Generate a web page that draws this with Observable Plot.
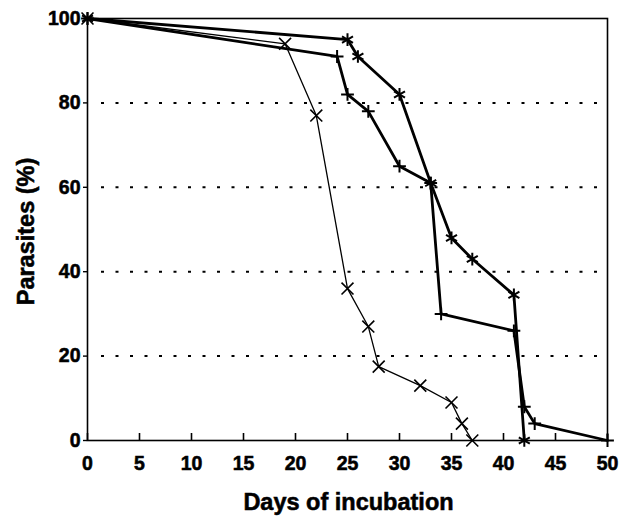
<!DOCTYPE html>
<html>
<head>
<meta charset="utf-8">
<script src="https://cdn.jsdelivr.net/npm/d3@7"></script>
<script src="https://cdn.jsdelivr.net/npm/@observablehq/plot@0.6"></script>
<style>
  html, body { margin: 0; padding: 0; background: #fff; }
  #chart svg { display: block; }
  #chart svg text { stroke: #000; stroke-width: 0.55px; paint-order: stroke; }
</style>
</head>
<body>
<div id="chart"></div>
<script>
// Series A (asterisk markers, thick line)
const daysA = [0, 25, 26, 30, 33, 35, 37, 41, 42];
const pctA  = [100, 95, 91, 82, 61, 48, 43, 34.5, 0];
// Series B (plus markers, thick line)
const daysB = [0, 24, 25, 27, 30, 33, 34, 41, 42, 43, 50];
const pctB  = [100, 91, 82, 78, 65, 61, 30, 26, 8, 4, 0];
// Series C (x markers, thin line)
const daysC = [0, 19, 22, 25, 27, 28, 32, 35, 36, 37];
const pctC  = [100, 94, 77, 36, 27, 17.5, 13, 9, 4, 0];

const xTicks = [0, 5, 10, 15, 20, 25, 30, 35, 40, 45, 50];
const yTicks = [0, 20, 40, 60, 80, 100];
const gridY = [20, 40, 60, 80];
const xLabel = "Days of incubation";
const yLabel = "Parasites (%)";

const toRows = (xs, ys) => xs.map((x, i) => ({x, y: ys[i]}));
const A = toRows(daysA, pctA);
const B = toRows(daysB, pctB);
const C = toRows(daysC, pctC);

const chart = Plot.plot({
  width: 634,
  height: 524,
  marginLeft: 87,
  marginRight: 27,
  marginTop: 18,
  marginBottom: 84,
  x: {domain: [0, 50]},
  y: {domain: [0, 100]},
  style: {fontFamily: "'Liberation Sans', Arial, sans-serif", fontWeight: "bold", fontSize: "19.5px", color: "#000", background: "#fff"},
  marks: [
    Plot.ruleY(gridY, {stroke: "#000", strokeWidth: 2, strokeDasharray: "3,11.5", insetLeft: 14, insetRight: 6}),
    Plot.frame({stroke: "#000", strokeWidth: 1.6}),
    Plot.axisX({ticks: xTicks, tickSize: -7, tickFormat: () => "", strokeWidth: 1.6, label: null}),
    Plot.axisX({ticks: xTicks, tickSize: 0, tickPadding: 16, label: null, fontSize: 19.5}),
    Plot.axisY({ticks: yTicks, tickSize: 4, tickPadding: 3, strokeWidth: 1.4, label: null, fontSize: 19.5}),
    Plot.line(C, {x: "x", y: "y", stroke: "#000", strokeWidth: 1.3}),
    Plot.dot(C, {x: "x", y: "y", symbol: "times", r: 5.5, stroke: "#000", strokeWidth: 1.6}),
    Plot.line(B, {x: "x", y: "y", stroke: "#000", strokeWidth: 2.8}),
    Plot.dot(B, {x: "x", y: "y", symbol: "plus", r: 4.2, stroke: "#000", strokeWidth: 2}),
    Plot.line(A, {x: "x", y: "y", stroke: "#000", strokeWidth: 2.8}),
    Plot.dot(A, {x: "x", y: "y", symbol: "asterisk", r: 6, stroke: "#000", strokeWidth: 2}),
    Plot.text([xLabel], {frameAnchor: "bottom", dy: 69, dx: 1, fontSize: 23.5, fontWeight: "bold", fill: "#000"}),
    Plot.text([yLabel], {frameAnchor: "left", textAnchor: "middle", dx: -61, dy: 2, rotate: -90, fontSize: 23.5, fontWeight: "bold", fill: "#000"})
  ]
});
document.getElementById("chart").appendChild(chart);
</script>
</body>
</html>
